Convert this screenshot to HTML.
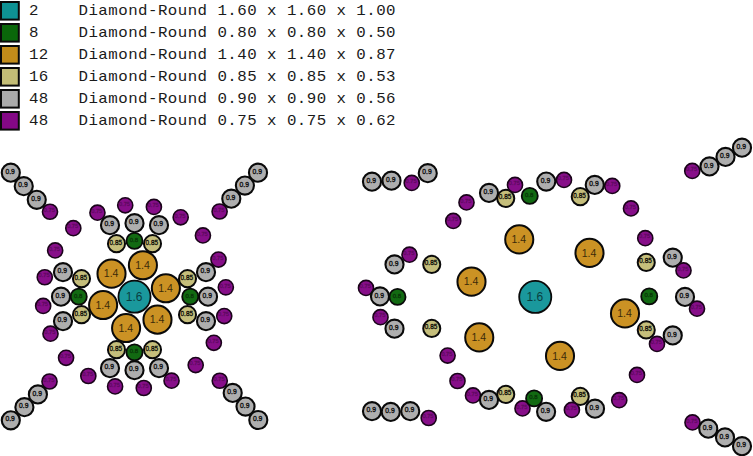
<!DOCTYPE html>
<html><head><meta charset="utf-8"><title>Stone layout</title>
<style>
html,body{margin:0;padding:0;background:#fff;}
body{width:753px;height:456px;overflow:hidden;}
svg{display:block;}
.c text{font-family:"Liberation Sans",Arial,sans-serif;}
.l text{font-family:"Liberation Mono","DejaVu Sans Mono",monospace;font-size:14.6px;fill:#1a1a1a;white-space:pre;}
</style></head><body>
<svg width="753" height="456" viewBox="0 0 753 456">
<rect width="753" height="456" fill="#fff"/>
<g class="l">
<rect x="1" y="2" width="17.8" height="17.6" fill="rgb(14,146,148)" stroke="#0a0a0a" stroke-width="2"/>
<text transform="translate(28.91 14.6) scale(1.08 1)" letter-spacing="0.430" xml:space="preserve">2    Diamond-Round 1.60 x 1.60 x 1.00</text>
<rect x="1" y="24" width="17.8" height="17.6" fill="rgb(10,103,10)" stroke="#0a0a0a" stroke-width="2"/>
<text transform="translate(28.91 36.6) scale(1.08 1)" letter-spacing="0.430" xml:space="preserve">8    Diamond-Round 0.80 x 0.80 x 0.50</text>
<rect x="1" y="46" width="17.8" height="17.6" fill="rgb(194,140,26)" stroke="#0a0a0a" stroke-width="2"/>
<text transform="translate(28.91 58.6) scale(1.08 1)" letter-spacing="0.430" xml:space="preserve">12   Diamond-Round 1.40 x 1.40 x 0.87</text>
<rect x="1" y="68" width="17.8" height="17.6" fill="rgb(195,189,118)" stroke="#0a0a0a" stroke-width="2"/>
<text transform="translate(28.91 80.6) scale(1.08 1)" letter-spacing="0.430" xml:space="preserve">16   Diamond-Round 0.85 x 0.85 x 0.53</text>
<rect x="1" y="90" width="17.8" height="17.6" fill="rgb(171,171,171)" stroke="#0a0a0a" stroke-width="2"/>
<text transform="translate(28.91 102.6) scale(1.08 1)" letter-spacing="0.430" xml:space="preserve">48   Diamond-Round 0.90 x 0.90 x 0.56</text>
<rect x="1" y="112" width="17.8" height="17.6" fill="rgb(132,8,134)" stroke="#0a0a0a" stroke-width="2"/>
<text transform="translate(28.91 124.6) scale(1.08 1)" letter-spacing="0.430" xml:space="preserve">48   Diamond-Round 0.75 x 0.75 x 0.62</text>
</g>
<g class="c">
<g fill="rgb(135,14,137)" stroke="#1a041a" stroke-width="1.6">
<circle cx="225.83" cy="287.37" r="7.55"/>
<circle cx="224.23" cy="316.05" r="7.55"/>
<circle cx="213.84" cy="342.83" r="7.55"/>
<circle cx="195.69" cy="365.08" r="7.55"/>
<circle cx="171.55" cy="380.64" r="7.55"/>
<circle cx="143.78" cy="387.98" r="7.55"/>
<circle cx="115.10" cy="386.38" r="7.55"/>
<circle cx="88.32" cy="375.99" r="7.55"/>
<circle cx="66.07" cy="357.84" r="7.55"/>
<circle cx="50.51" cy="333.70" r="7.55"/>
<circle cx="43.17" cy="305.93" r="7.55"/>
<circle cx="44.77" cy="277.25" r="7.55"/>
<circle cx="55.16" cy="250.47" r="7.55"/>
<circle cx="73.31" cy="228.22" r="7.55"/>
<circle cx="97.45" cy="212.66" r="7.55"/>
<circle cx="125.22" cy="205.32" r="7.55"/>
<circle cx="153.90" cy="206.92" r="7.55"/>
<circle cx="180.68" cy="217.31" r="7.55"/>
<circle cx="202.93" cy="235.46" r="7.55"/>
<circle cx="218.49" cy="259.60" r="7.55"/>
<circle cx="50.00" cy="211.75" r="7.55"/>
<circle cx="219.60" cy="211.50" r="7.55"/>
<circle cx="49.50" cy="381.50" r="7.55"/>
<circle cx="219.75" cy="380.75" r="7.55"/>
<circle cx="411.75" cy="182.90" r="7.55"/>
<circle cx="466.50" cy="202.40" r="7.55"/>
<circle cx="453.25" cy="220.90" r="7.55"/>
<circle cx="564.00" cy="179.90" r="7.55"/>
<circle cx="612.25" cy="185.90" r="7.55"/>
<circle cx="631.00" cy="208.40" r="7.55"/>
<circle cx="645.25" cy="238.15" r="7.55"/>
<circle cx="692.25" cy="170.90" r="7.55"/>
<circle cx="637.00" cy="374.90" r="7.55"/>
<circle cx="619.25" cy="400.15" r="7.55"/>
<circle cx="522.50" cy="408.40" r="7.55"/>
<circle cx="473.00" cy="395.40" r="7.55"/>
<circle cx="457.50" cy="381.00" r="7.55"/>
<circle cx="447.60" cy="355.60" r="7.55"/>
<circle cx="428.70" cy="418.00" r="7.55"/>
<circle cx="366.00" cy="287.90" r="7.55"/>
<circle cx="380.50" cy="317.15" r="7.55"/>
<circle cx="692.50" cy="422.40" r="7.55"/>
</g>
<g font-size="5.62" fill="#000" stroke="#000" stroke-width="0.3" opacity="0.3" text-anchor="middle">
<text x="225.13" y="287.59">0.75</text>
<text x="223.53" y="316.26">0.75</text>
<text x="213.14" y="343.04">0.75</text>
<text x="194.99" y="365.30">0.75</text>
<text x="170.85" y="380.86">0.75</text>
<text x="143.08" y="388.19">0.75</text>
<text x="114.40" y="386.59">0.75</text>
<text x="87.62" y="376.20">0.75</text>
<text x="65.37" y="358.05">0.75</text>
<text x="49.81" y="333.91">0.75</text>
<text x="42.47" y="306.14">0.75</text>
<text x="44.07" y="277.46">0.75</text>
<text x="54.46" y="250.69">0.75</text>
<text x="72.61" y="228.43">0.75</text>
<text x="96.75" y="212.87">0.75</text>
<text x="124.52" y="205.53">0.75</text>
<text x="153.20" y="207.14">0.75</text>
<text x="179.98" y="217.52">0.75</text>
<text x="202.23" y="235.68">0.75</text>
<text x="217.79" y="259.82">0.75</text>
<text x="49.30" y="211.96">0.75</text>
<text x="218.90" y="211.71">0.75</text>
<text x="48.80" y="381.71">0.75</text>
<text x="219.05" y="380.96">0.75</text>
<text x="411.05" y="183.11">0.75</text>
<text x="465.80" y="202.61">0.75</text>
<text x="452.55" y="221.11">0.75</text>
<text x="563.30" y="180.11">0.75</text>
<text x="611.55" y="186.11">0.75</text>
<text x="630.30" y="208.61">0.75</text>
<text x="644.55" y="238.36">0.75</text>
<text x="691.55" y="171.11">0.75</text>
<text x="636.30" y="375.11">0.75</text>
<text x="618.55" y="400.36">0.75</text>
<text x="521.80" y="408.61">0.75</text>
<text x="472.30" y="395.61">0.75</text>
<text x="456.80" y="381.21">0.75</text>
<text x="446.90" y="355.81">0.75</text>
<text x="428.00" y="418.21">0.75</text>
<text x="365.30" y="288.11">0.75</text>
<text x="379.80" y="317.36">0.75</text>
<text x="691.80" y="422.61">0.75</text>
</g>
<g fill="rgb(174,174,174)" stroke="#0a0a0a" stroke-width="2.1">
<circle cx="110.00" cy="225.15" r="9.05"/>
<circle cx="159.00" cy="225.15" r="9.05"/>
<circle cx="134.50" cy="223.15" r="9.05"/>
<circle cx="110.00" cy="368.15" r="9.05"/>
<circle cx="159.00" cy="368.15" r="9.05"/>
<circle cx="134.50" cy="370.15" r="9.05"/>
<circle cx="63.00" cy="272.15" r="9.05"/>
<circle cx="63.00" cy="321.15" r="9.05"/>
<circle cx="61.00" cy="296.65" r="9.05"/>
<circle cx="206.00" cy="272.15" r="9.05"/>
<circle cx="206.00" cy="321.15" r="9.05"/>
<circle cx="208.00" cy="296.65" r="9.05"/>
<circle cx="10.80" cy="172.70" r="9.05"/>
<circle cx="23.75" cy="186.20" r="9.05"/>
<circle cx="36.75" cy="199.80" r="9.05"/>
<circle cx="258.00" cy="172.70" r="9.05"/>
<circle cx="244.90" cy="185.60" r="9.05"/>
<circle cx="231.30" cy="198.70" r="9.05"/>
<circle cx="10.80" cy="420.30" r="9.05"/>
<circle cx="24.40" cy="407.20" r="9.05"/>
<circle cx="37.90" cy="394.40" r="9.05"/>
<circle cx="232.70" cy="392.90" r="9.05"/>
<circle cx="245.50" cy="406.60" r="9.05"/>
<circle cx="258.30" cy="420.00" r="9.05"/>
<circle cx="372.00" cy="181.65" r="9.05"/>
<circle cx="391.50" cy="180.65" r="9.05"/>
<circle cx="427.75" cy="173.15" r="9.05"/>
<circle cx="489.00" cy="192.90" r="9.05"/>
<circle cx="546.25" cy="181.60" r="9.05"/>
<circle cx="594.75" cy="184.90" r="9.05"/>
<circle cx="709.50" cy="166.40" r="9.05"/>
<circle cx="725.50" cy="156.90" r="9.05"/>
<circle cx="742.00" cy="147.65" r="9.05"/>
<circle cx="672.75" cy="257.65" r="9.05"/>
<circle cx="685.00" cy="296.90" r="9.05"/>
<circle cx="672.75" cy="335.40" r="9.05"/>
<circle cx="708.25" cy="428.65" r="9.05"/>
<circle cx="725.00" cy="437.40" r="9.05"/>
<circle cx="742.00" cy="446.15" r="9.05"/>
<circle cx="489.00" cy="399.90" r="9.05"/>
<circle cx="546.10" cy="411.80" r="9.05"/>
<circle cx="595.00" cy="408.65" r="9.05"/>
<circle cx="372.00" cy="411.15" r="9.05"/>
<circle cx="390.75" cy="411.90" r="9.05"/>
<circle cx="410.25" cy="411.15" r="9.05"/>
<circle cx="394.50" cy="264.40" r="9.05"/>
<circle cx="380.00" cy="296.40" r="9.05"/>
<circle cx="394.50" cy="328.65" r="9.05"/>
</g>
<g font-size="6.75" fill="#000" stroke="#000" stroke-width="0.3" opacity="0.95" text-anchor="middle">
<text x="109.30" y="226.27">0.9</text>
<text x="158.30" y="226.27">0.9</text>
<text x="133.80" y="224.27">0.9</text>
<text x="109.30" y="369.27">0.9</text>
<text x="158.30" y="369.27">0.9</text>
<text x="133.80" y="371.27">0.9</text>
<text x="62.30" y="273.27">0.9</text>
<text x="62.30" y="322.27">0.9</text>
<text x="60.30" y="297.77">0.9</text>
<text x="205.30" y="273.27">0.9</text>
<text x="205.30" y="322.27">0.9</text>
<text x="207.30" y="297.77">0.9</text>
<text x="10.10" y="173.82">0.9</text>
<text x="23.05" y="187.32">0.9</text>
<text x="36.05" y="200.92">0.9</text>
<text x="257.30" y="173.82">0.9</text>
<text x="244.20" y="186.72">0.9</text>
<text x="230.60" y="199.82">0.9</text>
<text x="10.10" y="421.42">0.9</text>
<text x="23.70" y="408.32">0.9</text>
<text x="37.20" y="395.52">0.9</text>
<text x="232.00" y="394.02">0.9</text>
<text x="244.80" y="407.72">0.9</text>
<text x="257.60" y="421.12">0.9</text>
<text x="371.30" y="182.77">0.9</text>
<text x="390.80" y="181.77">0.9</text>
<text x="427.05" y="174.27">0.9</text>
<text x="488.30" y="194.02">0.9</text>
<text x="545.55" y="182.72">0.9</text>
<text x="594.05" y="186.02">0.9</text>
<text x="708.80" y="167.52">0.9</text>
<text x="724.80" y="158.02">0.9</text>
<text x="741.30" y="148.77">0.9</text>
<text x="672.05" y="258.77">0.9</text>
<text x="684.30" y="298.02">0.9</text>
<text x="672.05" y="336.52">0.9</text>
<text x="707.55" y="429.77">0.9</text>
<text x="724.30" y="438.52">0.9</text>
<text x="741.30" y="447.27">0.9</text>
<text x="488.30" y="401.02">0.9</text>
<text x="545.40" y="412.92">0.9</text>
<text x="594.30" y="409.77">0.9</text>
<text x="371.30" y="412.27">0.9</text>
<text x="390.05" y="413.02">0.9</text>
<text x="409.55" y="412.27">0.9</text>
<text x="393.80" y="265.52">0.9</text>
<text x="379.30" y="297.52">0.9</text>
<text x="393.80" y="329.77">0.9</text>
</g>
<g fill="rgb(197,190,123)" stroke="#0a0a0a" stroke-width="2.0">
<circle cx="116.50" cy="243.65" r="8.55"/>
<circle cx="152.50" cy="243.65" r="8.55"/>
<circle cx="116.50" cy="349.65" r="8.55"/>
<circle cx="152.50" cy="349.65" r="8.55"/>
<circle cx="81.50" cy="278.65" r="8.55"/>
<circle cx="81.50" cy="314.65" r="8.55"/>
<circle cx="187.50" cy="278.65" r="8.55"/>
<circle cx="187.50" cy="314.65" r="8.55"/>
<circle cx="505.75" cy="198.40" r="8.55"/>
<circle cx="580.25" cy="196.65" r="8.55"/>
<circle cx="646.25" cy="262.40" r="8.55"/>
<circle cx="646.25" cy="329.90" r="8.55"/>
<circle cx="580.25" cy="396.40" r="8.55"/>
<circle cx="505.75" cy="394.40" r="8.55"/>
<circle cx="431.75" cy="328.40" r="8.55"/>
<circle cx="431.75" cy="264.40" r="8.55"/>
</g>
<g font-size="6.38" fill="#000" stroke="#000" stroke-width="0.3" opacity="0.92" text-anchor="middle">
<text x="115.80" y="244.63">0.85</text>
<text x="151.80" y="244.63">0.85</text>
<text x="115.80" y="350.63">0.85</text>
<text x="151.80" y="350.63">0.85</text>
<text x="80.80" y="279.63">0.85</text>
<text x="80.80" y="315.63">0.85</text>
<text x="186.80" y="279.63">0.85</text>
<text x="186.80" y="315.63">0.85</text>
<text x="505.05" y="199.38">0.85</text>
<text x="579.55" y="197.63">0.85</text>
<text x="645.55" y="263.38">0.85</text>
<text x="645.55" y="330.88">0.85</text>
<text x="579.55" y="397.38">0.85</text>
<text x="505.05" y="395.38">0.85</text>
<text x="431.05" y="329.38">0.85</text>
<text x="431.05" y="265.38">0.85</text>
</g>
<g fill="rgb(135,14,137)" stroke="#1a041a" stroke-width="1.6">
<circle cx="697.00" cy="308.65" r="7.55"/>
<circle cx="571.90" cy="409.90" r="7.55"/>
<circle cx="409.50" cy="254.65" r="7.55"/>
<circle cx="515.00" cy="184.90" r="7.55"/>
<circle cx="683.50" cy="270.40" r="7.55"/>
<circle cx="657.00" cy="343.90" r="7.55"/>
</g>
<g font-size="5.62" fill="#000" stroke="#000" stroke-width="0.3" opacity="0.3" text-anchor="middle">
<text x="696.30" y="308.86">0.75</text>
<text x="571.20" y="410.11">0.75</text>
<text x="408.80" y="254.86">0.75</text>
<text x="514.30" y="185.11">0.75</text>
<text x="682.80" y="270.61">0.75</text>
<text x="656.30" y="344.11">0.75</text>
</g>
<g fill="rgb(18,106,18)" stroke="#0a0a0a" stroke-width="1.8">
<circle cx="134.50" cy="240.90" r="8.05"/>
<circle cx="134.50" cy="352.40" r="8.05"/>
<circle cx="78.75" cy="296.65" r="8.05"/>
<circle cx="190.25" cy="296.65" r="8.05"/>
<circle cx="529.75" cy="195.90" r="8.05"/>
<circle cx="649.25" cy="296.40" r="8.05"/>
<circle cx="534.10" cy="398.40" r="8.05"/>
<circle cx="397.50" cy="296.90" r="8.05"/>
</g>
<g font-size="6.00" fill="#000" stroke="#000" stroke-width="0.3" opacity="0.5" text-anchor="middle">
<text x="133.80" y="241.75">0.8</text>
<text x="133.80" y="353.25">0.8</text>
<text x="78.05" y="297.50">0.8</text>
<text x="189.55" y="297.50">0.8</text>
<text x="529.05" y="196.75">0.8</text>
<text x="648.55" y="297.25">0.8</text>
<text x="533.40" y="399.25">0.8</text>
<text x="396.80" y="297.75">0.8</text>
</g>
<g fill="rgb(203,146,36)" stroke="#0a0a0a" stroke-width="2.0">
<circle cx="165.89" cy="288.24" r="14.05"/>
<circle cx="157.48" cy="319.63" r="14.05"/>
<circle cx="126.09" cy="328.04" r="14.05"/>
<circle cx="103.11" cy="305.06" r="14.05"/>
<circle cx="111.52" cy="273.67" r="14.05"/>
<circle cx="142.91" cy="265.26" r="14.05"/>
<circle cx="519.25" cy="239.40" r="14.05"/>
<circle cx="589.50" cy="252.90" r="14.05"/>
<circle cx="625.00" cy="313.40" r="14.05"/>
<circle cx="560.00" cy="355.90" r="14.05"/>
<circle cx="479.25" cy="337.40" r="14.05"/>
<circle cx="471.50" cy="281.65" r="14.05"/>
</g>
<g font-size="10.50" fill="#000" stroke="#000" stroke-width="0" opacity="0.72" text-anchor="middle">
<text x="165.49" y="291.90">1.4</text>
<text x="157.08" y="323.29">1.4</text>
<text x="125.69" y="331.70">1.4</text>
<text x="102.71" y="308.72">1.4</text>
<text x="111.12" y="277.33">1.4</text>
<text x="142.51" y="268.92">1.4</text>
<text x="518.85" y="243.06">1.4</text>
<text x="589.10" y="256.56">1.4</text>
<text x="624.60" y="317.06">1.4</text>
<text x="559.60" y="359.56">1.4</text>
<text x="478.85" y="341.06">1.4</text>
<text x="471.10" y="285.31">1.4</text>
</g>
<g fill="rgb(26,152,156)" stroke="#0a0a0a" stroke-width="1.8">
<circle cx="134.50" cy="296.65" r="16.05"/>
<circle cx="535.25" cy="296.90" r="16.05"/>
</g>
<g font-size="12.00" fill="#000" stroke="#000" stroke-width="0" opacity="0.6" text-anchor="middle">
<text x="134.10" y="300.85">1.6</text>
<text x="534.85" y="301.10">1.6</text>
</g>
</g>
</svg>
</body></html>
